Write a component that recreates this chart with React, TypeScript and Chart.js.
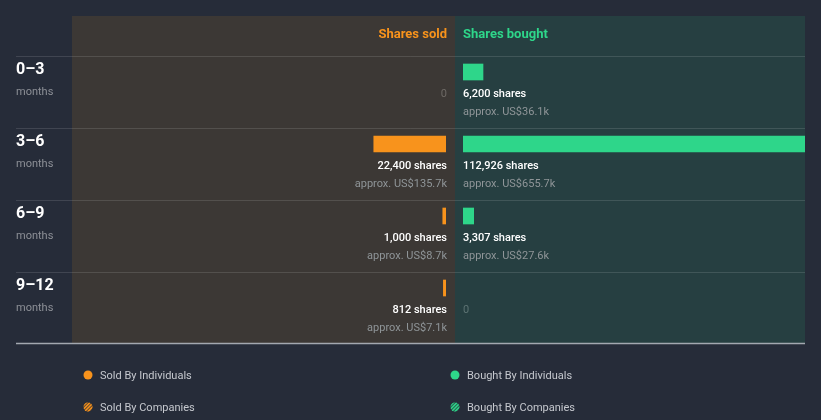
import { useEffect, useRef } from "react";
import { Chart, registerables } from "chart.js";

Chart.register(...registerables);

// ---------- data ----------
const PERIODS = ["0–3", "3–6", "6–9", "9–12"];
const PERIOD_UNIT = "months";
const SOLD_BY_INDIVIDUALS = [0, 22400, 1000, 812];
const SOLD_BY_COMPANIES = [0, 0, 0, 0];
const BOUGHT_BY_INDIVIDUALS = [6200, 112926, 3307, 0];
const BOUGHT_BY_COMPANIES = [0, 0, 0, 0];
const SOLD_VALUE_USD_K = [0, 135.7, 8.7, 7.1];
const BOUGHT_VALUE_USD_K = [36.1, 655.7, 27.6, 0];
const SOLD_AXIS_MAX = 116000;
const BOUGHT_AXIS_MAX = 106000;
const HEADER_SOLD = "Shares sold";
const HEADER_BOUGHT = "Shares bought";
const LEGEND_LABELS = ["Sold By Individuals", "Sold By Companies", "Bought By Individuals", "Bought By Companies"];

// ---------- styles ----------
const FONT = "Roboto, 'Noto Sans', sans-serif";
const BG = "#262c39";
const SOLD_PANEL = "#3c3835";
const BOUGHT_PANEL = "#263f41";
const ORANGE = "#f8931c";
const GREEN = "#2ed68a";

function hatch(color: string): CanvasPattern | string {
  const c = document.createElement("canvas");
  c.width = 6;
  c.height = 6;
  const g = c.getContext("2d");
  if (!g) return color;
  g.fillStyle = color;
  g.globalAlpha = 0.3;
  g.fillRect(0, 0, 6, 6);
  g.globalAlpha = 1;
  g.strokeStyle = color;
  g.lineWidth = 1.5;
  g.beginPath();
  g.moveTo(0, 6);
  g.lineTo(6, 0);
  g.moveTo(-3, 3);
  g.lineTo(3, -3);
  g.moveTo(3, 9);
  g.lineTo(9, 3);
  g.stroke();
  const p = g.createPattern(c, "repeat");
  return p || color;
}

const fmtShares = (n: number) => `${n.toLocaleString("en-US")} shares`;
const fmtUsd = (k: number) => `approx. US$${k.toFixed(1)}k`;
const nonZero = (arr: number[]) => arr.map((v) => (v === 0 ? null : v));

const decorPlugin = {
  id: "insiderDecor",
  beforeDraw(chart: any) {
    const { ctx, chartArea, scales } = chart;
    const y = scales.y;
    const xGap = scales.xGap;
    const band = (y.bottom - y.top) / PERIODS.length;
    const rowTop0 = y.getPixelForValue(0) - 16;
    const panelTop = Math.round(rowTop0 - 40);
    const bottomY = Math.round(y.getPixelForValue(PERIODS.length - 1) - 16 + band) - 0.5;
    const split = Math.round((xGap.left + xGap.right) / 2);
    ctx.save();
    ctx.fillStyle = BG;
    ctx.fillRect(0, 0, chart.width, chart.height);
    ctx.fillStyle = SOLD_PANEL;
    ctx.fillRect(chartArea.left, panelTop, split - chartArea.left, bottomY - panelTop);
    ctx.fillStyle = BOUGHT_PANEL;
    ctx.fillRect(split, panelTop, chartArea.right - split, bottomY - panelTop);
    // row separators
    ctx.strokeStyle = "rgba(255,255,255,0.12)";
    ctx.lineWidth = 1;
    for (let i = 0; i < PERIODS.length; i++) {
      const ry = Math.round(y.getPixelForValue(i) - 16) + 0.5;
      ctx.beginPath();
      ctx.moveTo(16, ry);
      ctx.lineTo(chartArea.right, ry);
      ctx.stroke();
    }
    ctx.strokeStyle = "#a3a8b0";
    ctx.lineWidth = 1.5;
    ctx.beginPath();
    ctx.moveTo(16, bottomY);
    ctx.lineTo(chartArea.right, bottomY);
    ctx.stroke();
    // headers
    const soldX = scales.xSold.getPixelForValue(0);
    const boughtX = scales.xBought.getPixelForValue(0);
    ctx.textBaseline = "middle";
    ctx.font = `bold 13px ${FONT}`;
    ctx.fillStyle = ORANGE;
    ctx.textAlign = "right";
    ctx.fillText(HEADER_SOLD, soldX + 1, rowTop0 - 21);
    ctx.fillStyle = GREEN;
    ctx.textAlign = "left";
    ctx.fillText(HEADER_BOUGHT, boughtX, rowTop0 - 21);
    // row labels
    for (let i = 0; i < PERIODS.length; i++) {
      const yc = y.getPixelForValue(i);
      ctx.textAlign = "left";
      ctx.fillStyle = "#ffffff";
      ctx.font = `bold 16px ${FONT}`;
      ctx.fillText(PERIODS[i], 16, yc - 2);
      ctx.fillStyle = "#8d9097";
      ctx.font = `11px ${FONT}`;
      ctx.fillText(PERIOD_UNIT, 16, yc + 20);
    }
    ctx.restore();
  },
  afterDatasetsDraw(chart: any) {
    const { ctx, scales } = chart;
    const y = scales.y;
    const soldX = scales.xSold.getPixelForValue(0);
    const boughtX = scales.xBought.getPixelForValue(0);
    ctx.save();
    ctx.textBaseline = "middle";
    for (let i = 0; i < PERIODS.length; i++) {
      const yc = y.getPixelForValue(i);
      const sold = SOLD_BY_INDIVIDUALS[i] + SOLD_BY_COMPANIES[i];
      const bought = BOUGHT_BY_INDIVIDUALS[i] + BOUGHT_BY_COMPANIES[i];
      const sides = [
        { v: sold, k: SOLD_VALUE_USD_K[i], x: soldX + 1, align: "right", zero: "#6e6a66" },
        { v: bought, k: BOUGHT_VALUE_USD_K[i], x: boughtX, align: "left", zero: "#5d7373" },
      ];
      for (const s of sides) {
        ctx.textAlign = s.align;
        if (s.v === 0) {
          ctx.font = `11px ${FONT}`;
          ctx.fillStyle = s.zero;
          ctx.fillText("0", s.x, yc + 22);
        } else {
          ctx.font = `500 11px ${FONT}`;
          ctx.fillStyle = "#ffffff";
          ctx.fillText(fmtShares(s.v), s.x, yc + 22);
          ctx.font = `11px ${FONT}`;
          ctx.fillStyle = "#8f9598";
          ctx.fillText(fmtUsd(s.k), s.x, yc + 40);
        }
      }
    }
    ctx.restore();
  },
  afterDraw(chart: any) {
    const { ctx, scales } = chart;
    const xGap = scales.xGap;
    const split = Math.round((xGap.left + xGap.right) / 2);
    const cols = [88, split];
    const rows = [375, 407];
    ctx.save();
    chart.data.datasets.forEach((ds: any, i: number) => {
      const cx = cols[Math.floor(i / 2)];
      const cy = rows[i % 2];
      const color = ds.legendColor;
      if (i % 2 === 0) {
        ctx.fillStyle = color;
        ctx.beginPath();
        ctx.arc(cx, cy, 4.5, 0, Math.PI * 2);
        ctx.fill();
      } else {
        ctx.save();
        ctx.beginPath();
        ctx.arc(cx, cy, 4.5, 0, Math.PI * 2);
        ctx.clip();
        ctx.globalAlpha = 0.3;
        ctx.fillStyle = color;
        ctx.fillRect(cx - 5, cy - 5, 10, 10);
        ctx.globalAlpha = 1;
        ctx.strokeStyle = color;
        ctx.lineWidth = 1.5;
        ctx.beginPath();
        for (let d = -6; d <= 6; d += 3.5) {
          ctx.moveTo(cx - 6 + d, cy + 6);
          ctx.lineTo(cx + 6 + d, cy - 6);
        }
        ctx.stroke();
        ctx.restore();
      }
      ctx.fillStyle = "#c5c8ce";
      ctx.font = `11px ${FONT}`;
      ctx.textAlign = "left";
      ctx.textBaseline = "middle";
      ctx.fillText(ds.label, cx + 12, cy + 1);
    });
    ctx.restore();
  },
};

export default function App() {
  const ref = useRef<HTMLCanvasElement | null>(null);
  useEffect(() => {
    if (!ref.current) return;
    const common = { stack: "all", barThickness: 16, borderWidth: 0 };
    const chart = new Chart(ref.current, {
      type: "bar",
      data: {
        labels: PERIODS,
        datasets: [
          { ...common, label: LEGEND_LABELS[0], data: nonZero(SOLD_BY_INDIVIDUALS), xAxisID: "xSold", backgroundColor: ORANGE, legendColor: ORANGE } as any,
          { ...common, label: LEGEND_LABELS[1], data: nonZero(SOLD_BY_COMPANIES), xAxisID: "xSold", backgroundColor: hatch(ORANGE), legendColor: ORANGE } as any,
          { ...common, label: LEGEND_LABELS[2], data: nonZero(BOUGHT_BY_INDIVIDUALS), xAxisID: "xBought", backgroundColor: GREEN, legendColor: GREEN } as any,
          { ...common, label: LEGEND_LABELS[3], data: nonZero(BOUGHT_BY_COMPANIES), xAxisID: "xBought", backgroundColor: hatch(GREEN), legendColor: GREEN } as any,
        ],
      },
      options: {
        indexAxis: "y",
        responsive: false,
        animation: false,
        devicePixelRatio: 1,
        layout: { padding: { left: 72, right: 16, top: 36, bottom: 96 } },
        plugins: { legend: { display: false }, tooltip: { enabled: false } },
        scales: {
          y: { type: "category", display: false, offset: true, grid: { display: false } },
          xSold: {
            type: "linear", axis: "x", position: "bottom", stack: "panels", stackWeight: 374, weight: 1,
            reverse: true, min: 0, max: SOLD_AXIS_MAX, stacked: true, display: false,
          },
          xGap: {
            type: "linear", axis: "x", position: "bottom", stack: "panels", stackWeight: 17, weight: 2,
            min: 0, max: 1, display: false,
          },
          xBought: {
            type: "linear", axis: "x", position: "bottom", stack: "panels", stackWeight: 342, weight: 3,
            min: 0, max: BOUGHT_AXIS_MAX, stacked: true, display: false,
          },
        } as any,
      },
      plugins: [decorPlugin as any],
    });
    return () => chart.destroy();
  }, []);
  return (
    <div style={{ position: "absolute", left: 0, top: 0, width: 821, height: 420 }}>
      <canvas ref={ref} width={821} height={420} style={{ display: "block", width: 821, height: 420 }} />
    </div>
  );
}
